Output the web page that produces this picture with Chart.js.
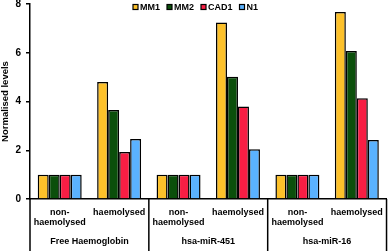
<!DOCTYPE html>
<html>
<head>
<meta charset="utf-8">
<script src="https://cdn.jsdelivr.net/npm/chart.js@4"></script>
<style>
  html, body { margin: 0; padding: 0; background: #fff; }
  #wrap { width: 392px; height: 251px; }
</style>
</head>
<body>
<div id="wrap"><canvas id="levelsChart"></canvas></div>
<script>
// categories (two per group) and the group names under them
const categories = [['non-', 'haemolysed'], 'haemolysed', ['non-', 'haemolysed'], 'haemolysed', ['non-', 'haemolysed'], 'haemolysed'];
const groups = ['Free Haemoglobin', 'hsa-miR-451', 'hsa-miR-16'];

// normalised levels
const mm1 = [1, 4.8, 1, 7.24, 1, 7.67];
const mm2 = [1, 3.65, 1, 5.02, 1, 6.07];
const cad1 = [1, 1.93, 1, 3.79, 1, 4.13];
const n1 = [1, 2.46, 1, 2.04, 1, 2.42];

const seriesNames = ['MM1', 'MM2', 'CAD1', 'N1'];
const seriesColors = ['#FDC12A', '#0B4F0B', '#F81E44', '#5AB2FF'];
const yTicks = [0, 2, 4, 6, 8];

const fontFamily = 'Arial, "Liberation Sans", sans-serif';

// separators between the groups, group labels and the legend
const groupPlugin = {
  id: 'groupLabels',
  afterDraw(chart) {
    const ctx = chart.ctx;
    const x = chart.scales.x;
    const area = chart.chartArea;
    const bottom = chart.height;
    ctx.save();
    ctx.strokeStyle = '#000';
    ctx.lineWidth = 1.5;
    const half = (x.getPixelForTick(1) - x.getPixelForTick(0)) / 2;
    for (let g = 0; g <= groups.length; g++) {
      let px;
      if (g === 0) px = area.left;
      else if (g === groups.length) px = area.right;
      else px = x.getPixelForTick(g * 2) - half;
      ctx.beginPath();
      ctx.moveTo(px, area.bottom);
      ctx.lineTo(px, bottom);
      ctx.stroke();
    }
    ctx.fillStyle = '#000';
    ctx.font = 'bold 9px ' + fontFamily;
    ctx.textAlign = 'center';
    ctx.textBaseline = 'middle';
    groups.forEach((name, g) => {
      const cx = (x.getPixelForTick(g * 2) + x.getPixelForTick(g * 2 + 1)) / 2;
      ctx.fillText(name, cx, area.bottom + 42.5);
    });

    // legend drawn inside the plot area
    ctx.textAlign = 'left';
    let lx = 133;
    const ly = 7;
    chart.data.datasets.forEach(ds => {
      ctx.fillStyle = ds.backgroundColor;
      ctx.fillRect(lx, ly - 2.5, 5, 5);
      ctx.lineWidth = 1.2;
      ctx.strokeStyle = '#000';
      ctx.strokeRect(lx, ly - 2.5, 5, 5);
      ctx.fillStyle = '#000';
      ctx.fillText(ds.label, lx + 7, ly + 0.5);
      lx += 7 + ctx.measureText(ds.label).width + 7;
    });
    ctx.restore();
  }
};

const allSeries = [mm1, mm2, cad1, n1];

new Chart(document.getElementById('levelsChart'), {
  type: 'bar',
  data: {
    labels: categories,
    datasets: allSeries.map((values, i) => ({
      label: seriesNames[i],
      data: values,
      backgroundColor: seriesColors[i],
      borderColor: '#000',
      borderWidth: 1.5,
      categoryPercentage: 0.74,
      barPercentage: 1
    }))
  },
  options: {
    responsive: true,
    maintainAspectRatio: false,
    animation: false,
    layout: { padding: { top: 0, right: 2, left: 0, bottom: 0 } },
    plugins: {
      legend: { display: false },
      tooltip: { enabled: false }
    },
    scales: {
      x: {
        grid: { display: false, drawTicks: false },
        border: { color: '#000', width: 1.5 },
        ticks: {
          color: '#000',
          font: { family: fontFamily, size: 9, weight: 'bold', lineHeight: 1.1 },
          maxRotation: 0,
          autoSkip: false,
          padding: 9
        },
        afterFit(scale) { scale.height = 52; }
      },
      y: {
        min: 0,
        max: 8,
        afterBuildTicks(scale) { scale.ticks = yTicks.map(v => ({ value: v })); },
        grid: { drawOnChartArea: false, color: '#000', tickLength: 4, lineWidth: 1.5 },
        border: { color: '#000', width: 1.5 },
        ticks: { color: '#000', font: { family: fontFamily, size: 10, weight: 'bold' }, padding: 5 },
        title: {
          display: true,
          text: 'Normalised levels',
          color: '#000',
          font: { family: fontFamily, size: 9.5, weight: 'bold' },
          padding: { top: 0, bottom: 0 }
        },
        afterFit(scale) {
          scale.width = 30;
          scale.paddingTop = 4;
        }
      }
    }
  },
  plugins: [groupPlugin]
});
</script>
</body>
</html>
